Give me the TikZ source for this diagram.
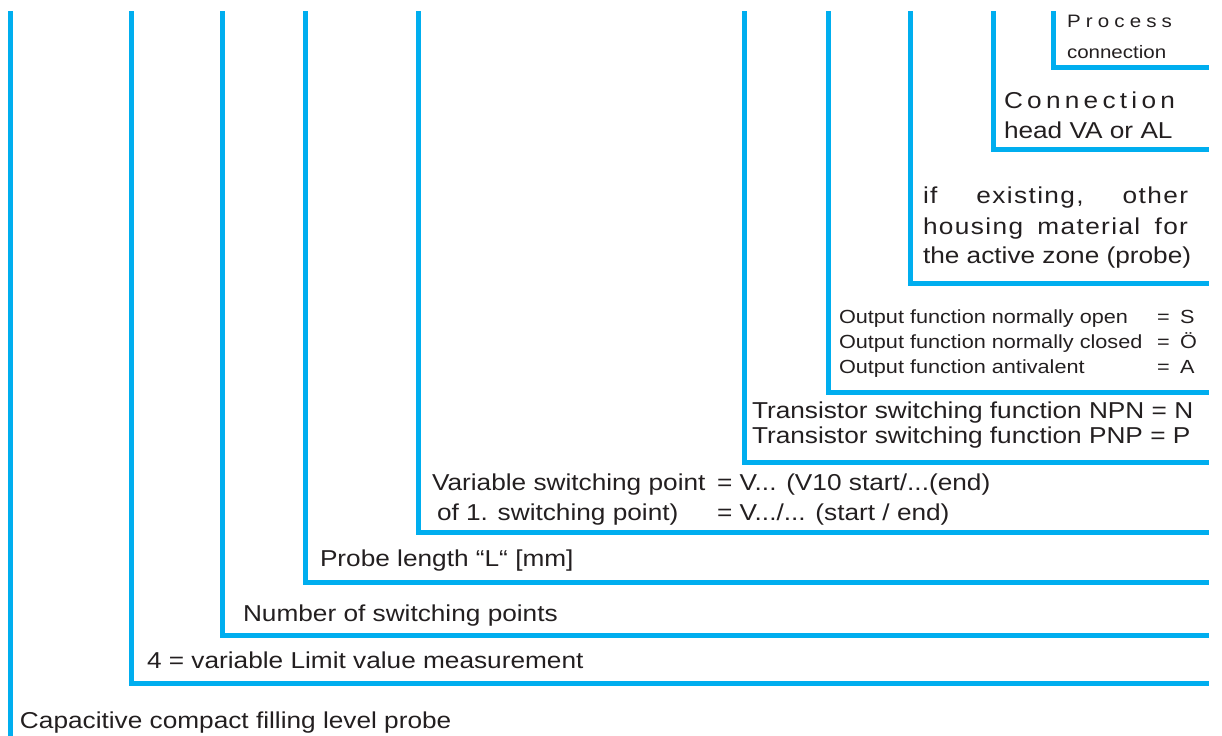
\documentclass[tikz,border=0pt]{standalone}
\usepackage{fontspec}
\setmainfont{Liberation Sans}[FakeStretch=1.14]
\newfontfamily\lsfont{Liberation Sans}[FakeStretch=1.14,LetterSpace=6]
\definecolor{cy}{HTML}{00AEEF}
\definecolor{tx}{HTML}{231F20}
\begin{document}
\begin{tikzpicture}[x=0.75pt,y=-0.75pt,
  br/.style={draw=cy,line width=3.75pt},
  txt/.style={anchor=base west,inner sep=0pt,outer sep=0pt,text=tx,font=\fontsize{17.25}{20}\selectfont},
  sm/.style={anchor=base west,inner sep=0pt,outer sep=0pt,text=tx,font=\fontsize{14.25}{16}\selectfont}]
\useasboundingbox (0,0) rectangle (1222,736);
% brackets
\coordinate (t0) at (10,11);   \coordinate (e0) at (10,736);
\draw[br] (t0) -- (e0);
\foreach \n/\x/\y in {1/131/683, 2/222/635, 3/305/582, 4/418/532, 5/744/462, 6/828/392, 7/910/283, 8/993/149, 9/1053/67}{
  \coordinate (t\n) at (\x,11);
  \coordinate (e\n) at (1209,\y);
  \draw[br] (t\n) |- (e\n);
}
% texts
\node[txt] (cap) at (20,728) {Capacitive compact filling level probe};
\node[txt] (lim) at (147,668) {4 = variable Limit value measurement};
\node[txt] (num) at (243,621) {Number of switching points};
\node[txt] (len) at (320,566) {Probe length “L“ [mm]};
\node[txt] (var1) at (432,490) {Variable switching point};
\node[txt] (var1b) at (717,490) {= V... (V10 start/...(end)};
\node[txt] (var2) at (437,520) {of 1. switching point)};
\node[txt] (var2b) at (717,520) {= V.../... (start / end)};
\node[txt] (npn) at (752,418) {Transistor switching function NPN = N};
\node[txt] (pnp) at (752,443) {Transistor switching function PNP = P};
\node[sm] (o1) at (839,323) {Output function normally open};
\node[sm] (o1e) at (1157,323) {=};
\node[sm] (o1v) at (1180,323) {S};
\node[sm] (o2) at (839,348) {Output function normally closed};
\node[sm] (o2e) at (1157,348) {=};
\node[sm] (o2v) at (1180,348) {Ö};
\node[sm] (o3) at (839,373) {Output function antivalent};
\node[sm] (o3e) at (1157,373) {=};
\node[sm] (o3v) at (1180,373) {A};
\node[txt] (h1) at (923,203) {\lsfont\makebox[198.75pt][s]{if\hfill existing,\hfill other}};
\node[txt] (h2) at (923,234) {\lsfont\makebox[198.75pt][s]{housing material for}};
\node[txt] (h3) at (923,263) {the active zone (probe)};
\node[txt] (c1) at (1004,108) {\makebox[128.25pt][s]{C\hfill o\hfill n\hfill n\hfill e\hfill c\hfill t\hfill i\hfill o\hfill n}};
\node[txt] (c2) at (1004,138) {head VA or AL};
\node[sm,font=\fontsize{13.5}{16}\selectfont] (p1) at (1067,27) {\makebox[78.75pt][s]{P\hfill r\hfill o\hfill c\hfill e\hfill s\hfill s}};
\node[sm,font=\fontsize{13.5}{16}\selectfont] (p2) at (1067,58) {connection};
\end{tikzpicture}
\end{document}
